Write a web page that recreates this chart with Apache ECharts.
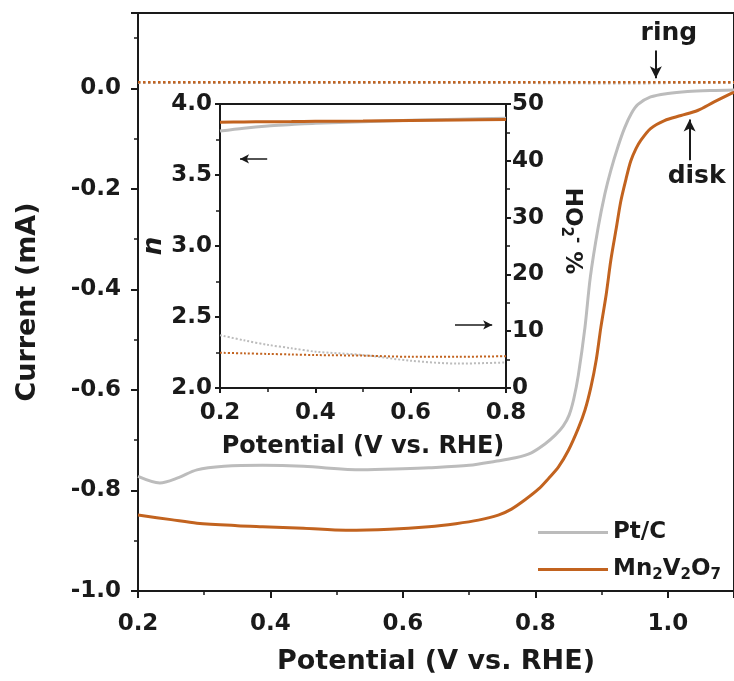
<!DOCTYPE html>
<html>
<head>
<meta charset="utf-8">
<script src="https://cdn.jsdelivr.net/npm/echarts@6/dist/echarts.min.js"></script>
<style>html,body{margin:0;padding:0;background:#fff}#c{width:734px;height:681px}</style>
</head>
<body>
<div id="c"></div>
<script>
// ---- Main panel: disk currents (mA) vs potential (V vs. RHE)
const ptcDiskX = [0.2,0.233,0.26,0.289,0.33,0.388,0.45,0.538,0.6,0.639,0.7,0.74,0.77,0.794,0.815,0.83,0.842,0.851,0.858,0.865,0.875,0.883,0.895,0.905,0.914,0.925,0.935,0.945,0.955,0.974,1.0,1.03,1.065,1.1];
const ptcDiskY = [-0.772,-0.785,-0.775,-0.759,-0.752,-0.75,-0.752,-0.759,-0.757,-0.755,-0.75,-0.742,-0.735,-0.725,-0.707,-0.69,-0.672,-0.65,-0.618,-0.57,-0.475,-0.376,-0.276,-0.21,-0.163,-0.115,-0.078,-0.05,-0.032,-0.017,-0.01,-0.006,-0.004,-0.003];
const mnDiskX = [0.2,0.25,0.289,0.35,0.388,0.45,0.514,0.58,0.639,0.68,0.714,0.744,0.764,0.785,0.805,0.82,0.835,0.85,0.865,0.875,0.884,0.892,0.899,0.907,0.914,0.922,0.929,0.937,0.944,0.952,0.959,0.974,0.995,1.02,1.045,1.07,1.096,1.1];
const mnDiskY = [-0.849,-0.858,-0.865,-0.87,-0.872,-0.875,-0.879,-0.877,-0.872,-0.866,-0.859,-0.849,-0.837,-0.818,-0.797,-0.776,-0.753,-0.72,-0.676,-0.64,-0.594,-0.54,-0.475,-0.41,-0.342,-0.28,-0.225,-0.18,-0.145,-0.12,-0.104,-0.08,-0.064,-0.054,-0.044,-0.027,-0.01,-0.008];
// ring currents (mA)
const ringX = [0.2,0.4,0.6,0.8,0.95,1.0,1.1];
const ptcRingY = [0.011,0.011,0.011,0.011,0.010,0.011,0.011];
const mnRingY = [0.012,0.012,0.012,0.012,0.012,0.012,0.012];
// ---- Inset: electron transfer number n and HO2- %
const insetX = [0.2,0.25,0.3,0.35,0.4,0.5,0.6,0.7,0.8];
const ptcN = [3.81,3.83,3.845,3.855,3.865,3.875,3.885,3.893,3.9];
const mnN = [3.872,3.874,3.875,3.876,3.878,3.88,3.883,3.887,3.89];
const ptcHO2 = [9.3,8.4,7.6,7.0,6.4,5.8,4.8,4.3,4.5];
const mnHO2 = [6.2,6.1,6.0,5.9,5.8,5.7,5.5,5.5,5.6];
// ---- axis ticks
const mainXTicks = [0.2,1.1,0.2];   // min, max, interval
const mainYTicks = [-1.0,0.15,0.2];
const insetXTicks = [0.2,0.8,0.2];
const insetNTicks = [2.0,4.0,0.5];
const insetHTicks = [0,50,10];

const GRAY = '#bcbcbc', ORANGE = '#c2631f', INK = '#1a1a1a';
const FONT = 'DejaVu Sans';
const zip = (xs, ys) => xs.map((x, i) => [x, ys[i]]);

function axisBase(extra) {
  return Object.assign({
    type: 'value',
    axisLine: { show: true, onZero: false, lineStyle: { color: INK, width: 2 } },
    axisTick: { show: true, inside: false, length: 7, lineStyle: { color: INK, width: 2 } },
    minorTick: { show: true, splitNumber: 2, length: 4, lineStyle: { color: INK, width: 1.5 } },
    splitLine: { show: false },
    nameTextStyle: { fontFamily: FONT, fontWeight: 'bold', color: INK }
  }, extra);
}

const subRich = (size) => ({
  a: { fontFamily: FONT, fontWeight: 'bold', fontSize: size, color: INK, lineHeight: size + 4 },
  s: { fontFamily: FONT, fontWeight: 'bold', fontSize: Math.round(size * 0.65), color: INK, lineHeight: 12, verticalAlign: 'bottom' },
  p: { fontFamily: FONT, fontWeight: 'bold', fontSize: Math.round(size * 0.65), color: INK, lineHeight: 12, verticalAlign: 'top' }
});

const chart = echarts.init(document.getElementById('c'), null, { renderer: 'canvas' });
chart.setOption({
  backgroundColor: '#fff',
  animation: false,
  grid: [
    { left: 138, top: 13, width: 598.5, height: 578, show: true, borderColor: INK, borderWidth: 2 },
    { left: 220, top: 104, width: 286, height: 284, show: true, borderColor: INK, borderWidth: 2 }
  ],
  legend: {
    data: ['Pt/C', 'Mn2V2O7'],
    orient: 'vertical', left: 533, top: 516, itemWidth: 70, itemHeight: 12, itemGap: 14,
    icon: 'path://M0,5 L70,5 L70,8 L0,8 Z',
    formatter: n => n === 'Pt/C' ? '{a|Pt/C}' : '{a|Mn}{s|2}{a|V}{s|2}{a|O}{s|7}',
    textStyle: { rich: subRich(23) }
  },
  xAxis: [
    axisBase({ gridIndex: 0, min: mainXTicks[0], max: mainXTicks[1], interval: mainXTicks[2],
      name: 'Potential (V vs. RHE)', nameLocation: 'middle', nameGap: 57,
      nameTextStyle: { fontFamily: FONT, fontWeight: 'bold', color: INK, fontSize: 27 },
      axisLabel: { fontFamily: FONT, fontWeight: 'bold', fontSize: 23, color: INK, margin: 22,
        showMaxLabel: false, formatter: v => v.toFixed(1) } }),
    axisBase({ gridIndex: 1, min: insetXTicks[0], max: insetXTicks[1], interval: insetXTicks[2],
      name: 'Potential (V vs. RHE)', nameLocation: 'middle', nameGap: 47,
      axisTick: { show: true, length: 5, lineStyle: { color: INK, width: 2 } },
      minorTick: { show: true, splitNumber: 2, length: 4, lineStyle: { color: INK, width: 1.5 } },
      nameTextStyle: { fontFamily: FONT, fontWeight: 'bold', color: INK, fontSize: 24 },
      axisLabel: { fontFamily: FONT, fontWeight: 'bold', fontSize: 23, color: INK, margin: 14,
        formatter: v => v.toFixed(1) } })
  ],
  yAxis: [
    axisBase({ gridIndex: 0, min: mainYTicks[0], max: mainYTicks[1], interval: mainYTicks[2],
      name: 'Current (mA)', nameLocation: 'middle', nameGap: 97, nameRotate: 90,
      nameTextStyle: { fontFamily: FONT, fontWeight: 'bold', color: INK, fontSize: 27 },
      axisLabel: { fontFamily: FONT, fontWeight: 'bold', fontSize: 23, color: INK, margin: 17,
        showMaxLabel: false, formatter: v => v.toFixed(1) } }),
    { gridIndex: 0, type: 'value', show: false, min: mainYTicks[0], max: mainYTicks[1] },
    axisBase({ gridIndex: 1, position: 'left', min: insetNTicks[0], max: insetNTicks[1], interval: insetNTicks[2],
      name: 'n', nameLocation: 'middle', nameGap: 52, nameRotate: 90,
      axisTick: { show: true, length: 5, lineStyle: { color: INK, width: 2 } },
      nameTextStyle: { fontFamily: FONT, fontWeight: 'bold', fontStyle: 'italic', color: INK, fontSize: 26 },
      axisLabel: { fontFamily: FONT, fontWeight: 'bold', fontSize: 23, color: INK, margin: 8,
        formatter: v => v.toFixed(1) } }),
    axisBase({ gridIndex: 1, position: 'right', min: insetHTicks[0], max: insetHTicks[1], interval: insetHTicks[2],
      name: '{a|HO}{s|2}{p|-}{a| %}', nameLocation: 'middle', nameGap: 52, nameRotate: -90,
      axisTick: { show: true, length: 5, lineStyle: { color: INK, width: 2 } },
      nameTextStyle: { rich: subRich(23), padding: [0, 30, 0, 0] },
      axisLabel: { fontFamily: FONT, fontWeight: 'bold', fontSize: 23, color: INK, margin: 6,
        formatter: v => String(Math.round(v)) } })
  ],
  series: [
    { name: 'Pt/C', type: 'line', xAxisIndex: 0, yAxisIndex: 0, data: zip(ptcDiskX, ptcDiskY),
      showSymbol: false, symbol: 'none', smooth: 0.3, lineStyle: { color: GRAY, width: 3 }, itemStyle: { color: GRAY }, z: 3 },
    { name: 'Mn2V2O7', type: 'line', xAxisIndex: 0, yAxisIndex: 0, data: zip(mnDiskX, mnDiskY),
      showSymbol: false, symbol: 'none', smooth: 0.3, lineStyle: { color: ORANGE, width: 3 }, itemStyle: { color: ORANGE }, z: 3,
      markLine: { silent: true, symbol: ['none', 'arrow'], symbolSize: [9, 12],
        lineStyle: { color: INK, width: 2, type: 'solid' },
        label: { show: true, position: 'start', distance: 4, fontFamily: FONT, fontWeight: 'bold', fontSize: 25, color: INK },
        data: [
          [{ coord: [0.982, 0.0755], label: { formatter: 'ring', padding: [0, 0, 0, 26] } }, { coord: [0.982, 0.02] }],
          [{ coord: [1.033, -0.143], label: { formatter: 'disk', padding: [0, 0, 0, 14] } }, { coord: [1.033, -0.062] }]
        ] } },
    { name: 'Pt/C ring', type: 'line', xAxisIndex: 0, yAxisIndex: 0, data: zip(ringX, ptcRingY),
      showSymbol: false, symbol: 'none', lineStyle: { color: GRAY, width: 2.5, type: 'dotted' }, z: 2 },
    { name: 'Mn2V2O7 ring', type: 'line', xAxisIndex: 0, yAxisIndex: 0, data: zip(ringX, mnRingY),
      showSymbol: false, symbol: 'none', lineStyle: { color: ORANGE, width: 2.5, type: 'dotted' }, z: 2 },
    { name: 'Pt/C n', type: 'line', xAxisIndex: 1, yAxisIndex: 2, data: zip(insetX, ptcN),
      showSymbol: false, symbol: 'none', smooth: 0.3, lineStyle: { color: GRAY, width: 3 }, z: 3 },
    { name: 'Mn2V2O7 n', type: 'line', xAxisIndex: 1, yAxisIndex: 2, data: zip(insetX, mnN),
      showSymbol: false, symbol: 'none', smooth: 0.3, lineStyle: { color: ORANGE, width: 3 }, z: 3,
      markLine: { silent: true, symbol: ['none', 'arrow'], symbolSize: [7, 9],
        lineStyle: { color: INK, width: 1.5, type: 'solid' }, label: { show: false },
        data: [[{ coord: [0.299, 3.613] }, { coord: [0.242, 3.613] }]] } },
    { name: 'Pt/C HO2', type: 'line', xAxisIndex: 1, yAxisIndex: 3, data: zip(insetX, ptcHO2),
      showSymbol: false, symbol: 'none', smooth: 0.3, lineStyle: { color: GRAY, width: 2, type: 'dotted' }, z: 3 },
    { name: 'Mn2V2O7 HO2', type: 'line', xAxisIndex: 1, yAxisIndex: 3, data: zip(insetX, mnHO2),
      showSymbol: false, symbol: 'none', smooth: 0.3, lineStyle: { color: ORANGE, width: 2, type: 'dotted' }, z: 3,
      markLine: { silent: true, symbol: ['none', 'arrow'], symbolSize: [7, 9],
        lineStyle: { color: INK, width: 1.5, type: 'solid' }, label: { show: false },
        data: [[{ coord: [0.693, 11.1] }, { coord: [0.771, 11.1] }]] } }
  ]
});
</script>
</body>
</html>
